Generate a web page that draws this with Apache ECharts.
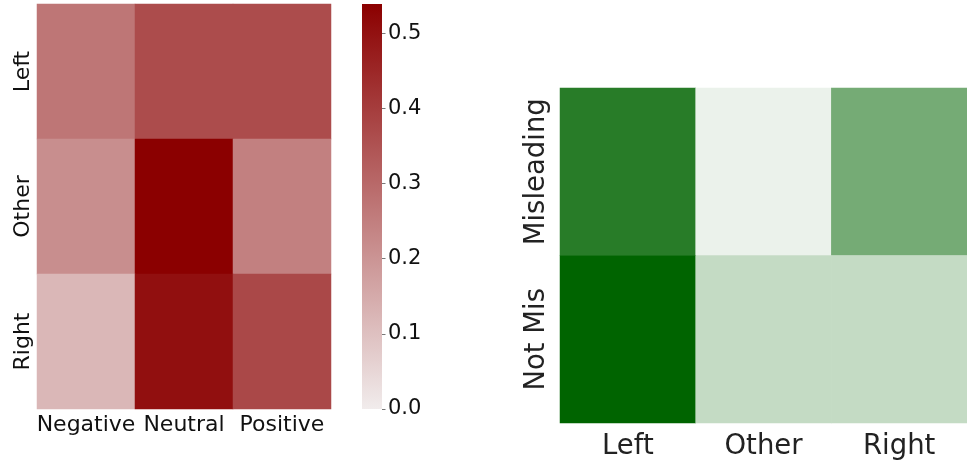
<!DOCTYPE html>
<html><head><meta charset="utf-8">
<script src="https://cdn.jsdelivr.net/npm/echarts@6/dist/echarts.min.js"></script>
<style>html,body{margin:0;padding:0;background:#fff}#c{width:967px;height:465px}</style>
</head><body><div id="c"></div>
<script>
const sentimentCats = ['Negative', 'Neutral', 'Positive'];
const leaningRows = ['Left', 'Other', 'Right'];
const sentimentValues = [
  [0.27, 0.365, 0.365],
  [0.215, 0.539, 0.246],
  [0.12, 0.505, 0.375]
];
const colorbarTicks = [0.0, 0.1, 0.2, 0.3, 0.4, 0.5];
const colorbarMax = 0.539;

const leaningCats = ['Left', 'Other', 'Right'];
const misRows = ['Misleading', 'Not Mis'];
const misValues = [
  [0.58, 0.05, 0.37],
  [0.69, 0.155, 0.155]
];

const RED_LOW = '#f1ecec', RED_HIGH = '#8b0000';
const toCells = (m) => m.flatMap((row, r) => row.map((v, c) => [c, r, v]));
const FONT = 'DejaVu Sans';
const chart = echarts.init(document.getElementById('c'), null, {renderer: 'canvas'});
chart.setOption({
  animation: false,
  grid: [
    {left: 37, top: 4, width: 294, height: 405},
    {left: 362, top: 4, width: 20, height: 405},
    {left: 560, top: 88, width: 411, height: 335}
  ],
  xAxis: [
    {gridIndex: 0, type: 'category', data: sentimentCats, axisLine: {show: false},
     axisTick: {alignWithLabel: true, length: 3.5, lineStyle: {color: '#777'}},
     axisLabel: {interval: 0, fontFamily: FONT, fontSize: 22, color: '#111', margin: 5}},
    {gridIndex: 1, type: 'category', data: [''], show: false},
    {gridIndex: 2, type: 'category', data: leaningCats, axisLine: {show: false},
     axisTick: {alignWithLabel: true, length: 5, lineStyle: {color: '#777'}},
     axisLabel: {interval: 0, fontFamily: FONT, fontSize: 27.5, color: '#222', margin: 10}}
  ],
  yAxis: [
    {gridIndex: 0, type: 'category', data: leaningRows, inverse: true, axisLine: {show: false},
     axisTick: {alignWithLabel: true, length: 3.5, lineStyle: {color: '#777'}},
     axisLabel: {interval: 0, fontFamily: FONT, fontSize: 22, color: '#111', rotate: 90, margin: 3}},
    {gridIndex: 1, type: 'value', position: 'right', min: 0, max: colorbarMax,
     axisLine: {show: false}, splitLine: {show: false},
     axisTick: {show: true, length: 3.5, lineStyle: {color: '#777'}, customValues: colorbarTicks},
     axisLabel: {fontFamily: FONT, fontSize: 21, color: '#111', margin: 6,
                 customValues: colorbarTicks, formatter: v => v.toFixed(1)}},
    {gridIndex: 2, type: 'category', data: misRows, inverse: true, axisLine: {show: false},
     axisTick: {alignWithLabel: true, length: 5, lineStyle: {color: '#777'}},
     axisLabel: {interval: 0, fontFamily: FONT, fontSize: 27.5, color: '#222', rotate: 90, margin: 9}}
  ],
  visualMap: [
    {type: 'continuous', seriesIndex: 0, min: 0, max: colorbarMax, show: false,
     inRange: {color: [RED_LOW, RED_HIGH]}},
    {type: 'continuous', seriesIndex: 2, min: 0.05, max: 0.69, show: false,
     inRange: {color: ['#ebf2eb', '#006400']}}
  ],
  series: [
    {type: 'heatmap', xAxisIndex: 0, yAxisIndex: 0, data: toCells(sentimentValues),
     itemStyle: {borderWidth: 0}, emphasis: {disabled: true}},
    {type: 'bar', xAxisIndex: 1, yAxisIndex: 1, data: [colorbarMax], barWidth: '100%',
     silent: true, z: 1,
     itemStyle: {color: new echarts.graphic.LinearGradient(0, 0, 0, 1,
       [{offset: 0, color: RED_HIGH}, {offset: 1, color: RED_LOW}])}},
    {type: 'heatmap', xAxisIndex: 2, yAxisIndex: 2, data: toCells(misValues),
     itemStyle: {borderWidth: 0}, emphasis: {disabled: true}}
  ]
});
</script></body></html>
